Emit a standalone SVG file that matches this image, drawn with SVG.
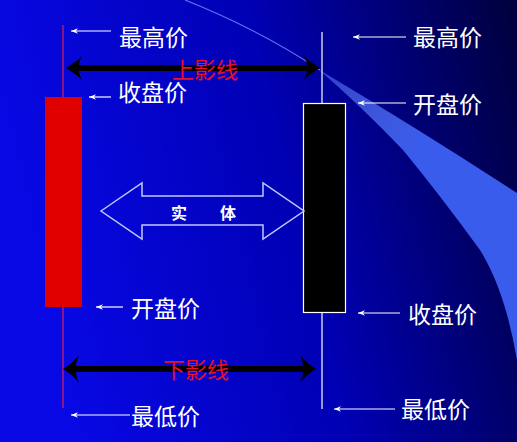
<svg xmlns="http://www.w3.org/2000/svg" width="517" height="442" viewBox="0 0 517 442">
<defs>
<linearGradient id="bg" x1="0" y1="0.2" x2="1" y2="0">
<stop offset="0" stop-color="#0808e4"/>
<stop offset="0.5" stop-color="#0000b4"/>
<stop offset="1" stop-color="#00003c"/>
</linearGradient>
<linearGradient id="sw" gradientUnits="userSpaceOnUse" x1="320" y1="70" x2="420" y2="140">
<stop offset="0" stop-color="#6a88ff" stop-opacity="0.45"/>
<stop offset="1" stop-color="#3a5cec"/>
</linearGradient>
<marker id="ah" viewBox="0 0 10 10" refX="0" refY="5" markerWidth="7" markerHeight="7" orient="auto" markerUnits="userSpaceOnUse">
<path d="M0,5 L10,1 L7,5 L10,9 Z" fill="#ffffff"/>
</marker>
<style>
.lbl{font-family:"Noto Sans CJK SC","Noto Sans CJK JP",sans-serif;font-size:23px;fill:#ffffff}
.red{font-family:"Noto Sans CJK SC","Noto Sans CJK JP",sans-serif;font-size:22px;fill:#e8102a}
.body{font-family:"Noto Sans CJK SC","Noto Sans CJK JP",sans-serif;font-size:16px;font-weight:bold;fill:#ffffff}
.ptr{stroke:#ffffff;stroke-width:1.2;fill:none;marker-start:url(#ah)}
.shaft{stroke:#000000;stroke-width:6;fill:none}
.head{fill:#000000}
</style>
</defs>
<rect x="0" y="0" width="517" height="442" fill="url(#bg)"/>
<g id="decor">
<path d="M185,0 Q260,30 320,70" stroke="#7090ff" stroke-width="1.2" fill="none" opacity="0.8"/>
<path d="M318,69 Q420,130 517,193 L517,360 Q505,290 480,250 Q440,195 403,150 Q360,105 318,69 Z" fill="url(#sw)"/>
</g>
<g id="candle-red">
<line x1="63" y1="25" x2="63" y2="408" stroke="#e02050" stroke-width="1.2"/>
<rect x="45" y="97" width="37" height="210" fill="#e00000"/>
</g>
<g id="candle-black">
<line x1="322" y1="32" x2="322" y2="409" stroke="#ffffff" stroke-width="1.2"/>
<rect x="303.5" y="103.5" width="42" height="209" fill="#000000" stroke="#ffffff" stroke-width="1.2"/>
</g>
<g id="body-arrow">
<polygon points="101,211 142,183 142,196 263,196 263,183 304,211 263,239 263,225 142,225 142,239" fill="none" stroke="#c0c8ff" stroke-width="1.5"/>
<text class="body" x="171" y="219">实</text>
<text class="body" x="220" y="219">体</text>
</g>
<g id="connectors">
<line class="ptr" x1="71" y1="31" x2="111" y2="31"/>
<line class="ptr" x1="89" y1="97" x2="111" y2="97"/>
<line class="ptr" x1="96" y1="307" x2="123" y2="307"/>
<line class="ptr" x1="71" y1="415" x2="130" y2="415"/>
<line class="ptr" x1="353" y1="37" x2="406" y2="37"/>
<line class="ptr" x1="358" y1="103" x2="406" y2="103"/>
<line class="ptr" x1="358" y1="313" x2="400" y2="313"/>
<line class="ptr" x1="334" y1="409" x2="395" y2="409"/>
<line class="shaft" x1="74" y1="68" x2="312" y2="68"/>
<path class="head" d="M66,68 Q76,62 82,56 Q78,64 79,68 Q78,72 82,80 Q76,74 66,68 Z"/>
<path class="head" d="M320,68 Q310,62 304,56 Q308,64 307,68 Q308,72 304,80 Q310,74 320,68 Z"/>
<line class="shaft" x1="71" y1="369" x2="308" y2="369"/>
<path class="head" d="M63,369 Q73,363 79,355 Q75,364 76,369 Q75,374 79,383 Q73,375 63,369 Z"/>
<path class="head" d="M316,369 Q306,363 300,355 Q304,364 303,369 Q304,374 300,383 Q306,375 316,369 Z"/>
</g>
<g id="labels">
<text class="lbl" x="119" y="46">最高价</text>
<text class="lbl" x="118" y="101">收盘价</text>
<text class="lbl" x="131" y="317">开盘价</text>
<text class="lbl" x="131" y="425">最低价</text>
<text class="lbl" x="413" y="46">最高价</text>
<text class="lbl" x="413" y="113">开盘价</text>
<text class="lbl" x="408" y="323">收盘价</text>
<text class="lbl" x="401" y="418">最低价</text>
<text class="red" x="172" y="78">上影线</text>
<text class="red" x="163" y="378">下影线</text>
</g>
</svg>
